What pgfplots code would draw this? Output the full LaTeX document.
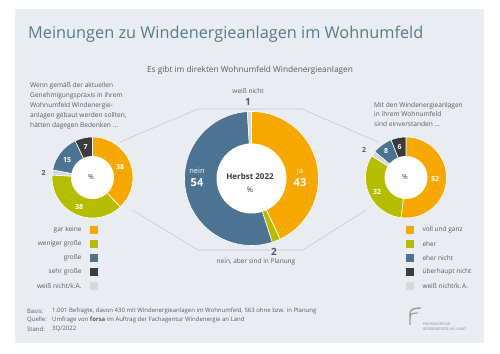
\documentclass[border=0pt]{standalone}
\usepackage{fontspec}
\setmainfont{Open Sans}
\usepackage{pgfplots}
\usepackage{pgfplotstable}
\pgfplotsset{compat=1.18}

\definecolor{cor}{RGB}{246,168,0}
\definecolor{cli}{RGB}{180,189,0}
\definecolor{cbl}{RGB}{77,115,146}
\definecolor{cdk}{RGB}{60,60,62}
\definecolor{cgy}{RGB}{214,215,218}
\definecolor{panel}{RGB}{233,237,242}
\definecolor{ttl}{RGB}{88,122,145}
\definecolor{txt}{RGB}{90,92,96}
\definecolor{lne}{RGB}{196,202,210}

% main donut: Es gibt im direkten Wohnumfeld Windenergieanlagen
\pgfplotstableread{
val col
43 cor
2  cli
54 cbl
1  cgy
}\tmain
% left donut: Bedenken
\pgfplotstableread{
val col
38 cor
38 cli
2  cgy
15 cbl
7  cdk
}\tleft
% right donut: einverstanden
\pgfplotstableread{
val col
52 cor
32 cli
2  cgy
8  cbl
6  cdk
}\tright

\newcommand{\donut}[5]{%
  \pgfplotstablegetrowsof{#1}%
  \pgfmathtruncatemacro{\nlast}{\pgfplotsretval-1}%
  \def\cum{0}%
  \pgfplotsforeachungrouped \i in {0,...,\nlast}{%
    \pgfplotstablegetelem{\i}{val}\of{#1}\let\sliceval\pgfplotsretval
    \pgfplotstablegetelem{\i}{col}\of{#1}\let\slicecol\pgfplotsretval
    \pgfmathsetmacro{\nxt}{\cum+\sliceval}%
    \edef\temp{\noexpand\addplot[fill=\slicecol, draw=white, line width=0.6pt, line join=round, domain=\cum:\nxt, samples=80] ({#2+#4*sin(3.6*x)},{#3+#4*cos(3.6*x)}) -- (axis cs:#2,#3) -- cycle;}%
    \temp
    \let\cum\nxt
  }%
  \fill[white] (axis cs:#2,#3) circle[radius=#5];
}

\newcommand{\fs}[1]{\fontsize{#1}{#1}\selectfont}

\begin{document}
\begin{tikzpicture}
\begin{axis}[width=500pt,height=353pt,scale only axis,
  xmin=0,xmax=500,ymin=0,ymax=353,hide axis,clip=false]
\path (axis cs:0,0) rectangle (axis cs:500,353);
\fill[panel] (axis cs:15,10) rectangle (axis cs:484,344);

% title
\node[anchor=base west, text=ttl, inner sep=0pt, font=\fs{16.3}] at (axis cs:28,314) {Meinungen zu Windenergieanlagen im Wohnumfeld};
\node[anchor=base, text=txt, inner sep=0pt, font=\fs{8.3}] at (axis cs:250,280) {Es gibt im direkten Wohnumfeld Windenergieanlagen};

% connecting lines
\draw[lne, line width=0.6pt] (axis cs:120,211) -- (axis cs:198,244) -- (axis cs:302,244) -- (axis cs:378,211);
\draw[lne, line width=0.6pt] (axis cs:132,143) -- (axis cs:198,103) -- (axis cs:303,103) -- (axis cs:366,143);

% donuts
\donut{\tmain}{251.5}{174.5}{67}{35}
\donut{\tleft}{92.5}{175.5}{40.5}{21.5}
\donut{\tright}{406}{175.5}{40.5}{21.5}

% main labels
\node[text=txt, font=\fs{6.5}] at (axis cs:248,262) {weiß nicht};
\node[text=cdk!85, font=\fs{10}\bfseries] at (axis cs:248,251) {1};
\node[text=cdk!85, font=\fs{10}\bfseries] at (axis cs:274,101) {2};
\node[text=txt, font=\fs{6.5}] at (axis cs:256,91) {nein, aber sind in Planung};
\node[text=white, font=\fs{7.5}] at (axis cs:197,182) {nein};
\node[text=white, font=\fs{11}\bfseries] at (axis cs:197,170) {54};
\node[text=white, font=\fs{7.5}] at (axis cs:300,181) {ja};
\node[text=white, font=\fs{11}\bfseries] at (axis cs:300,170) {43};
\node[text=cdk, font=\fs{8}\bfseries] at (axis cs:250,176) {Herbst 2022};
\node[text=cdk, font=\fs{7.5}] at (axis cs:250,163) {\%};

% left labels
\node[text=white, font=\fs{7}\bfseries] at (axis cs:120,186) {38};
\node[text=white, font=\fs{7}\bfseries] at (axis cs:79,146) {38};
\node[text=white, font=\fs{7}\bfseries] at (axis cs:67,193) {15};
\node[text=white, font=\fs{7}\bfseries] at (axis cs:85.5,206) {7};
\node[text=cdk!85, font=\fs{7}\bfseries] at (axis cs:43.5,180) {2};
\node[text=cdk, font=\fs{7}] at (axis cs:91,176) {\%};

% right labels
\node[text=white, font=\fs{7}\bfseries] at (axis cs:435,174) {52};
\node[text=white, font=\fs{7}\bfseries] at (axis cs:377,161) {32};
\node[text=white, font=\fs{7}\bfseries] at (axis cs:386,202) {8};
\node[text=white, font=\fs{7}\bfseries] at (axis cs:399.5,206) {6};
\node[text=cdk!85, font=\fs{7}\bfseries] at (axis cs:364,203) {2};
\node[text=cdk, font=\fs{7}] at (axis cs:405,176) {\%};

% descriptions
\node[anchor=north west, text=txt, align=left, inner sep=0pt, font=\fontsize{6.6}{10}\selectfont] at (axis cs:30,271) {Wenn gemäß der aktuellen\\Genehmigungspraxis in ihrem\\Wohnumfeld Windenergie-\\anlagen gebaut werden sollten,\\hätten dagegen Bedenken \dots};
\node[anchor=north west, text=txt, align=left, inner sep=0pt, font=\fontsize{6.6}{9.7}\selectfont] at (axis cs:374,251) {Mit den Windenergieanlagen\\in ihrem Wohnumfeld\\sind einverstanden \dots};

% left legend
\fill[cor] (axis cs:90,119) rectangle (axis cs:98,127);
\fill[cli] (axis cs:90,105) rectangle (axis cs:98,113);
\fill[cbl] (axis cs:90,91) rectangle (axis cs:98,99);
\fill[cdk] (axis cs:90,77) rectangle (axis cs:98,85);
\fill[cgy] (axis cs:90,63) rectangle (axis cs:98,71);
\node[anchor=east, text=txt, font=\fs{6.5}] at (axis cs:85,123) {gar keine};
\node[anchor=east, text=txt, font=\fs{6.5}] at (axis cs:85,109) {weniger große};
\node[anchor=east, text=txt, font=\fs{6.5}] at (axis cs:85,95) {große};
\node[anchor=east, text=txt, font=\fs{6.5}] at (axis cs:85,81) {sehr große};
\node[anchor=east, text=txt, font=\fs{6.5}] at (axis cs:85,67) {weiß nicht/k.A.};

% right legend
\fill[cor] (axis cs:406,119) rectangle (axis cs:414,127);
\fill[cli] (axis cs:406,105) rectangle (axis cs:414,113);
\fill[cbl] (axis cs:406,91) rectangle (axis cs:414,99);
\fill[cdk] (axis cs:406,77) rectangle (axis cs:414,85);
\fill[cgy] (axis cs:406,63) rectangle (axis cs:414,71);
\node[anchor=west, text=txt, font=\fs{6.5}] at (axis cs:419,123) {voll und ganz};
\node[anchor=west, text=txt, font=\fs{6.5}] at (axis cs:419,109) {eher};
\node[anchor=west, text=txt, font=\fs{6.5}] at (axis cs:419,95) {eher nicht};
\node[anchor=west, text=txt, font=\fs{6.5}] at (axis cs:419,81) {überhaupt nicht};
\node[anchor=west, text=txt, font=\fs{6.5}] at (axis cs:419,67) {weiß nicht/k.\,A.};

% footer
\node[anchor=west, text=txt, inner sep=0pt, font=\fs{6}] at (axis cs:27,42) {Basis:};
\node[anchor=west, text=txt, inner sep=0pt, font=\fs{6}] at (axis cs:27,33) {Quelle:};
\node[anchor=west, text=txt, inner sep=0pt, font=\fs{6}] at (axis cs:27,24) {Stand:};
\node[anchor=west, text=txt, inner sep=0pt, font=\fs{6}] at (axis cs:52,42) {1.001 Befragte, davon 430 mit Windenergieanlagen im Wohnumfeld, 563 ohne bzw. in Planung};
\node[anchor=west, text=txt, inner sep=0pt, font=\fs{6}] at (axis cs:52,33) {Umfrage von \textbf{forsa} im Auftrag der Fachagentur Windenergie an Land};
\node[anchor=west, text=txt, inner sep=0pt, font=\fs{6}] at (axis cs:52,24) {3Q/2022};

% logo
\draw[gray!80, line width=1.3pt] (axis cs:410,28) -- (axis cs:410,39) .. controls (axis cs:410,44) and (axis cs:414,45) .. (axis cs:421,45);
\draw[gray!80, line width=1.1pt] (axis cs:410,36) .. controls (axis cs:410,39) and (axis cs:413,40) .. (axis cs:418,40);
\node[anchor=west, text=gray!90, inner sep=0pt, font=\fs{3.8}] at (axis cs:423,29) {FACHAGENTUR};
\node[anchor=west, text=gray!90, inner sep=0pt, font=\fs{3.8}] at (axis cs:423,24) {WINDENERGIE AN LAND};
\end{axis}
\end{tikzpicture}
\end{document}
